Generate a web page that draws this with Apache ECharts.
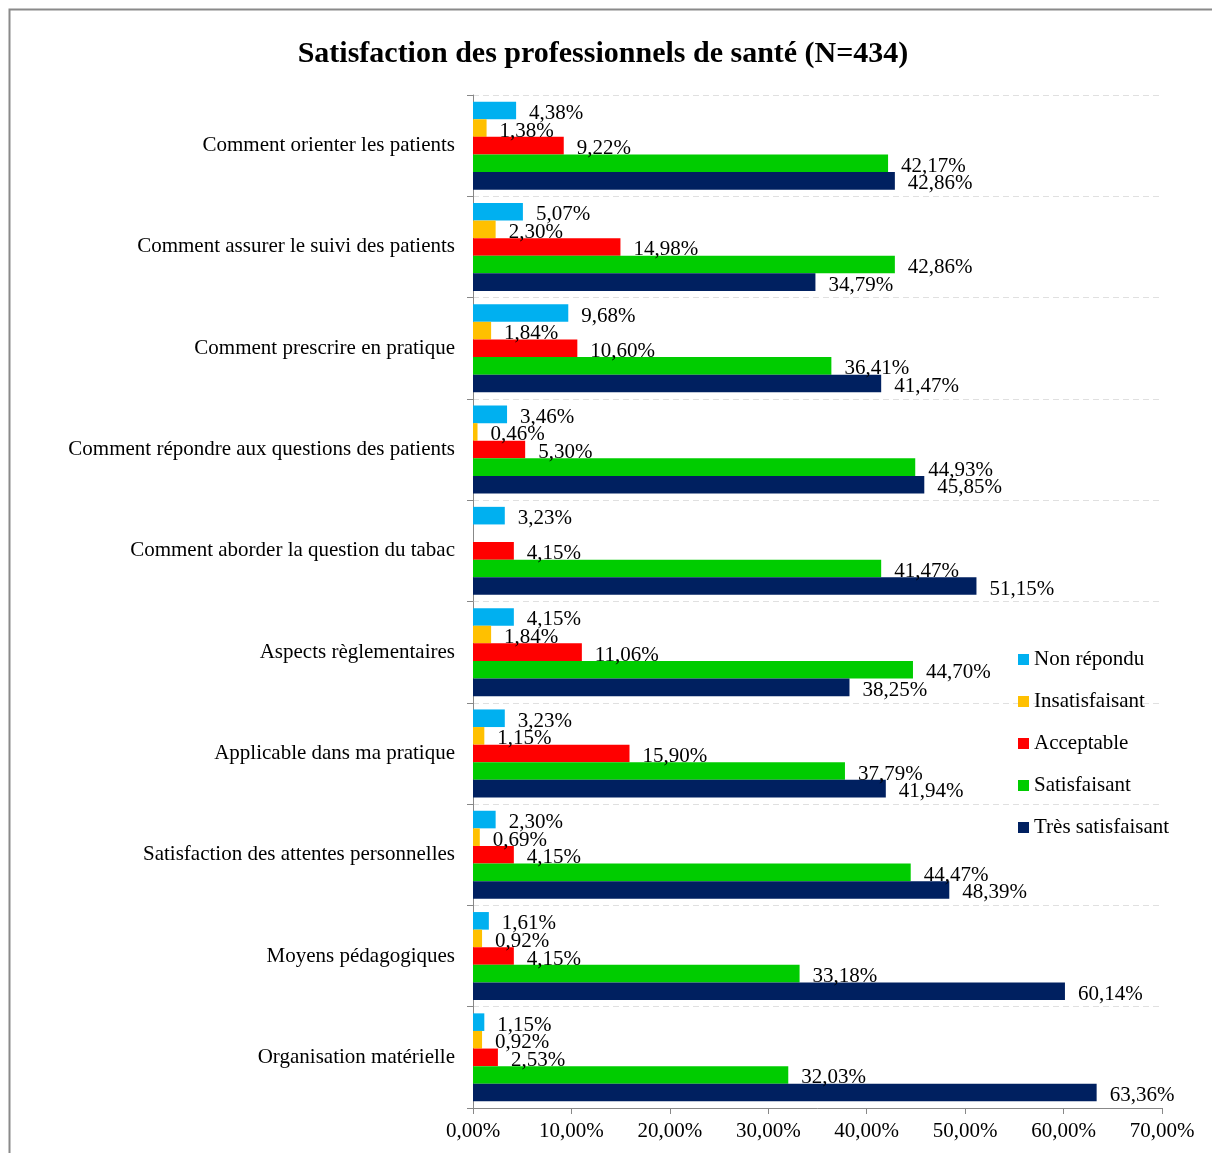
<!DOCTYPE html>
<html>
<head>
<meta charset="utf-8">
<script src="https://cdn.jsdelivr.net/npm/echarts@6/dist/echarts.min.js"></script>
<style>
html,body{margin:0;padding:0;background:#fff;}
#c{width:1212px;height:1153px;}
</style>
</head>
<body>
<div id="c"></div>
<script>
const categories = [
  "Comment orienter les patients",
  "Comment assurer le suivi des patients",
  "Comment prescrire en pratique",
  "Comment répondre aux questions des patients",
  "Comment aborder la question du tabac",
  "Aspects règlementaires",
  "Applicable dans ma pratique",
  "Satisfaction des attentes personnelles",
  "Moyens pédagogiques",
  "Organisation matérielle"
];
const seriesNames = ["Non répondu", "Insatisfaisant", "Acceptable", "Satisfaisant", "Très satisfaisant"];
const nonRepondu      = [4.38, 5.07, 9.68, 3.46, 3.23, 4.15, 3.23, 2.30, 1.61, 1.15];
const insatisfaisant  = [1.38, 2.30, 1.84, 0.46, 0,    1.84, 1.15, 0.69, 0.92, 0.92];
const acceptable      = [9.22, 14.98, 10.60, 5.30, 4.15, 11.06, 15.90, 4.15, 4.15, 2.53];
const satisfaisant    = [42.17, 42.86, 36.41, 44.93, 41.47, 44.70, 37.79, 44.47, 33.18, 32.03];
const tresSatisfaisant= [42.86, 34.79, 41.47, 45.85, 51.15, 38.25, 41.94, 48.39, 60.14, 63.36];
const xTicks = [0, 10, 20, 30, 40, 50, 60, 70];

const colors = ["#00B0F0", "#FFC000", "#FF0000", "#00CC00", "#002060"];
const allData = [nonRepondu, insatisfaisant, acceptable, satisfaisant, tresSatisfaisant];
const FONT = "'Liberation Serif', 'Times New Roman', serif";
const fmt = v => v.toFixed(2).replace('.', ',') + '%';

const chart = echarts.init(document.getElementById('c'));
chart.setOption({
  animation: false,
  backgroundColor: '#fff',
  title: {
    text: 'Satisfaction des professionnels de santé (N=434)',
    left: 598, top: 34, textAlign: 'center',
    textStyle: {fontFamily: FONT, fontSize: 30, fontWeight: 'bold', color: '#000'}
  },
  graphic: [{
    type: 'rect', left: 7, top: 7, shape: {width: 1220, height: 1160},
    style: {fill: 'none', stroke: '#8a8a8a', lineWidth: 2}, silent: true
  }],
  legend: {
    orient: 'vertical', left: 1013, top: 644, itemGap: 21,
    itemWidth: 11, itemHeight: 11, icon: 'rect',
    textStyle: {fontFamily: FONT, fontSize: 21, color: '#000'},
    data: seriesNames
  },
  grid: {left: 473, right: 50, top: 95, bottom: 45, containLabel: false},
  xAxis: {
    type: 'value', min: xTicks[0], max: xTicks[xTicks.length - 1], interval: 10,
    axisLine: {show: true, lineStyle: {color: '#888'}},
    axisTick: {show: true, length: 6, lineStyle: {color: '#888'}},
    splitLine: {show: false},
    axisLabel: {fontFamily: FONT, fontSize: 21, color: '#000', margin: 13, formatter: v => fmt(v)}
  },
  yAxis: {
    type: 'category', inverse: true, data: categories,
    axisLine: {show: true, lineStyle: {color: '#888'}},
    axisTick: {show: true, length: 6, lineStyle: {color: '#888'}},
    splitLine: {show: true, lineStyle: {color: '#e0e0e0', type: [6, 4]}},
    axisLabel: {fontFamily: FONT, fontSize: 21, color: '#000', margin: 18}
  },
  series: seriesNames.map((n, i) => ({
    name: n, type: 'bar', data: allData[i],
    barWidth: 17.6, barGap: '0%',
    itemStyle: {color: colors[i]},
    label: {
      show: true, position: 'right', distance: 13, offset: [0, 3],
      fontFamily: FONT, fontSize: 21, color: '#000',
      formatter: p => p.value === 0 ? '' : fmt(p.value)
    }
  }))
});
</script>
</body>
</html>
